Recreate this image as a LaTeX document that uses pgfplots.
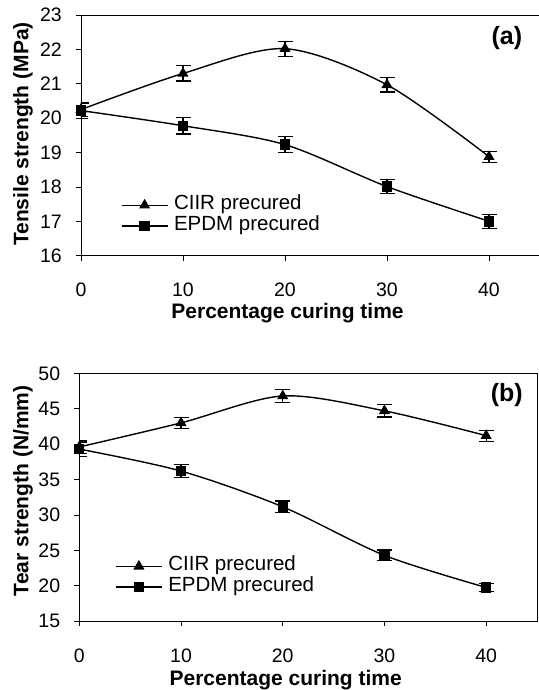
\documentclass[border=0pt]{standalone}
\usepackage{fontspec}
\setmainfont{Liberation Sans}
\usepackage{pgfplots}
\pgfplotsset{compat=1.18}

\pgfplotsset{
  panel/.style={
    scale only axis,
    xmin=0, xmax=45,
    xtick={0,10,20,30,40},
    tick align=outside,
    xtick pos=left, ytick pos=left,
    major tick length=5pt,
    every tick/.style={black, line width=0.8pt},
    axis line style={line width=0.8pt},
    /pgf/number format/assume math mode=true,
    tick label style={font=\fontsize{19.5}{19.5}\selectfont},
    xticklabel style={anchor=base, yshift=-36pt},
    yticklabel style={anchor=east, inner sep=0pt, xshift=-14pt},
    label style={font=\bfseries\fontsize{21}{21}\selectfont},
    legend style={draw=none, fill=none, font=\fontsize{20.5}{20.5}\selectfont,
      cells={anchor=west}, row sep=0pt, column sep=5.7pt, inner sep=0pt,
      nodes={inner sep=0pt, text height=15pt, text depth=5.7pt}},
    legend image code/.code={\draw[mark repeat=2,mark phase=2,#1]
      plot coordinates {(0pt,0pt) (23pt,0pt) (46pt,0pt)};},
    error bars/y dir=both,
    error bars/y explicit,
    error bars/error bar style={line width=1.2pt},
    error bars/error mark options={rotate=90, mark size=7.5pt, line width=1.2pt},
  },
  ciir/.style={black, line width=1.4pt, smooth, tension=0.5,
    mark=triangle*, mark size=5pt, mark options={solid, fill=black}},
  epdm/.style={black, line width=1.4pt, smooth, tension=0.5,
    mark=square*, mark size=4.5pt, mark options={solid, fill=black}},
}

\begin{document}
\begin{tikzpicture}
\useasboundingbox (0,0) rectangle (538pt,-690pt);

% (a) tensile strength
\begin{axis}[panel,
  at={(81pt,-15pt)}, anchor=north west,
  width=459pt, height=240.7pt,
  ymin=16, ymax=23, ytick={16,17,...,23},
  xlabel={Percentage curing time},
  ylabel={Tensile strength (MPa)},
  xlabel style={at={(axis description cs:0.45,-0.259)}, anchor=base},
  ylabel style={at={(axis description cs:-0.1148,0.5056)}, anchor=base},
  legend style={at={(axis description cs:0.0865,0.2534)}, anchor=north west},
]
\addplot[ciir] coordinates {
  (0,20.25) +- (0,0.20)
  (10,21.30) +- (0,0.22)
  (20,22.02) +- (0,0.22)
  (30,20.97) +- (0,0.21)
  (40,18.88) +- (0,0.16)
};
\addlegendentry{CIIR precured}
\addplot[epdm] coordinates {
  (0,20.22) +- (0,0.22)
  (10,19.78) +- (0,0.24)
  (20,19.23) +- (0,0.24)
  (30,18.01) +- (0,0.21)
  (40,17.00) +- (0,0.20)
};
\addlegendentry{EPDM precured}
\node[font=\bfseries\fontsize{25}{25}\selectfont] at (axis description cs:0.928,0.904) {(a)};
\end{axis}

% (b) tear strength
\begin{axis}[panel,
  at={(79.3pt,-373.3pt)}, anchor=north west,
  width=457.7pt, height=247.9pt,
  ymin=15, ymax=50, ytick={15,20,...,50},
  xlabel={Percentage curing time},
  ylabel={Tear strength (N/mm)},
  xlabel style={at={(axis description cs:0.451,-0.2574)}, anchor=base},
  ylabel style={at={(axis description cs:-0.1114,0.526)}, anchor=base},
  legend style={at={(axis description cs:0.078,0.264)}, anchor=north west},
]
\addplot[ciir] coordinates {
  (0,39.6) +- (0,0.9)
  (10,43.0) +- (0,0.8)
  (20,46.8) +- (0,0.95)
  (30,44.7) +- (0,0.87)
  (40,41.2) +- (0,0.78)
};
\addlegendentry{CIIR precured}
\addplot[epdm] coordinates {
  (0,39.3) +- (0,1.0)
  (10,36.2) +- (0,0.87)
  (20,31.15) +- (0,0.82)
  (30,24.3) +- (0,0.75)
  (40,19.76) +- (0,0.6)
};
\addlegendentry{EPDM precured}
\node[font=\bfseries\fontsize{25}{25}\selectfont] at (axis description cs:0.934,0.912) {(b)};
\end{axis}
\end{tikzpicture}
\end{document}
